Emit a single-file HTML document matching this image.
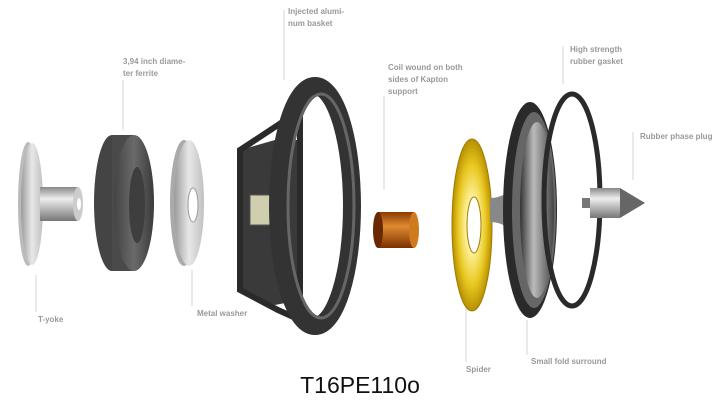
<!DOCTYPE html>
<html><head><style>
body{margin:0;background:#fff;}
svg{display:block}
text{font-family:"Liberation Sans",sans-serif;fill:#999;font-size:8px;font-weight:bold}
</style></head><body>
<svg width="720" height="403" viewBox="0 0 720 403" xmlns="http://www.w3.org/2000/svg">
<defs>
<linearGradient id="lg" x1="0" x2="1"><stop offset="0" stop-color="#9a9a9a"/><stop offset="0.5" stop-color="#e8e8e8"/><stop offset="1" stop-color="#c0c0c0"/></linearGradient>
<linearGradient id="cyl" x1="0" y1="0" x2="0" y2="1"><stop offset="0" stop-color="#888"/><stop offset="0.35" stop-color="#eee"/><stop offset="1" stop-color="#777"/></linearGradient>
<linearGradient id="org" x1="0" y1="0" x2="0" y2="1"><stop offset="0" stop-color="#8a3c00"/><stop offset="0.4" stop-color="#e08a30"/><stop offset="1" stop-color="#7a3000"/></linearGradient>
<radialGradient id="yel" cx="0.5" cy="0.5" r="0.5"><stop offset="0.3" stop-color="#fff3a0"/><stop offset="0.7" stop-color="#e8c820"/><stop offset="1" stop-color="#b89000"/></radialGradient>
<linearGradient id="dk" x1="0" x2="1"><stop offset="0" stop-color="#444"/><stop offset="0.5" stop-color="#6a6a6a"/><stop offset="1" stop-color="#3a3a3a"/></linearGradient>
<linearGradient id="cone" x1="0" x2="1"><stop offset="0" stop-color="#333"/><stop offset="0.4" stop-color="#bbb"/><stop offset="1" stop-color="#444"/></linearGradient>
</defs>
<g stroke="#ccc" stroke-width="0.8">
<line x1="36" y1="275" x2="36" y2="312"/>
<line x1="123" y1="80" x2="123" y2="130"/>
<line x1="192" y1="270" x2="192" y2="306"/>
<line x1="284" y1="10" x2="284" y2="80"/>
<line x1="384" y1="96" x2="384" y2="190"/>
<line x1="466" y1="300" x2="466" y2="362"/>
<line x1="527" y1="320" x2="527" y2="355"/>
<line x1="563" y1="46" x2="563" y2="84"/>
<line x1="633" y1="132" x2="633" y2="180"/>
</g>
<!-- T-yoke -->
<ellipse cx="28" cy="204" rx="10" ry="62" fill="#bbb"/>
<ellipse cx="32" cy="204" rx="11" ry="61" fill="url(#lg)"/>
<rect x="40" y="187" width="38" height="34" fill="url(#cyl)"/>
<ellipse cx="78" cy="204" rx="5" ry="17" fill="#ccc"/>
<ellipse cx="79" cy="204" rx="2" ry="6" fill="#fff"/>
<!-- ferrite -->
<ellipse cx="112" cy="203" rx="18" ry="68" fill="#444"/>
<rect x="112" y="135" width="22" height="136" fill="#4a4a4a"/>
<ellipse cx="134" cy="203" rx="20" ry="68" fill="url(#dk)"/>
<ellipse cx="137" cy="205" rx="8" ry="38" fill="#3e3e3e"/>
<!-- metal washer -->
<ellipse cx="184" cy="203" rx="14" ry="63" fill="#aaa"/>
<ellipse cx="189" cy="203" rx="15" ry="63" fill="url(#lg)"/>
<ellipse cx="193" cy="205" rx="5" ry="17" fill="#fff" stroke="#999"/>
<!-- basket rear frame -->
<path d="M240 150 L275 140 L300 140 L300 300 L275 305 L240 290 Z" fill="#3a3a3a"/>
<path d="M240 150 L278 125 L300 110 L300 320 L278 310 L240 290 Z" fill="none" stroke="#2a2a2a" stroke-width="6"/>
<rect x="250" y="195" width="20" height="30" fill="#cfcfb0" stroke="#555"/>
<!-- basket ring -->
<ellipse cx="315" cy="206" rx="37" ry="120" fill="none" stroke="#333" stroke-width="18"/>
<ellipse cx="321" cy="206" rx="33" ry="112" fill="none" stroke="#666" stroke-width="3"/>
<!-- coil -->
<rect x="378" y="212" width="36" height="36" fill="url(#org)"/>
<ellipse cx="378" cy="230" rx="5" ry="18" fill="#6a2800"/>
<ellipse cx="414" cy="230" rx="5" ry="18" fill="#d07a20"/>
<!-- spider -->
<ellipse cx="472" cy="225" rx="20" ry="86" fill="url(#yel)" stroke="#a07c00"/>
<ellipse cx="474" cy="225" rx="7" ry="28" fill="#fff" stroke="#a07c00"/>
<!-- cone -->
<path d="M490 198 Q505 198 515 185 L515 235 Q505 222 490 222 Z" fill="#888"/>
<ellipse cx="530" cy="210" rx="27" ry="108" fill="#2a2a2a"/>
<ellipse cx="534" cy="210" rx="22" ry="98" fill="#666"/>
<ellipse cx="537" cy="210" rx="17" ry="88" fill="url(#cone)"/>
<!-- gasket -->
<ellipse cx="572" cy="200" rx="28" ry="106" fill="none" stroke="#2a2a2a" stroke-width="5"/>
<!-- phase plug -->
<rect x="582" y="198" width="10" height="10" fill="#777"/>
<rect x="590" y="188" width="30" height="30" fill="url(#cyl)"/>
<path d="M620 188 L645 203 L620 218 Z" fill="#666"/>
<!-- labels -->
<text x="288" y="14">Injected alumi-</text>
<text x="288" y="26">num basket</text>
<text x="123" y="64">3,94 inch diame-</text>
<text x="123" y="76">ter ferrite</text>
<text x="388" y="70">Coil wound on both</text>
<text x="388" y="82">sides of Kapton</text>
<text x="388" y="94">support</text>
<text x="570" y="52">High strength</text>
<text x="570" y="64">rubber gasket</text>
<text x="640" y="139">Rubber phase plug</text>
<text x="38" y="322">T-yoke</text>
<text x="197" y="316">Metal washer</text>
<text x="466" y="372">Spider</text>
<text x="531" y="364">Small fold surround</text>
<text x="360" y="393" text-anchor="middle" style="font-size:23px;fill:#111;font-weight:normal">T16PE110o</text>
</svg>
</body></html>
